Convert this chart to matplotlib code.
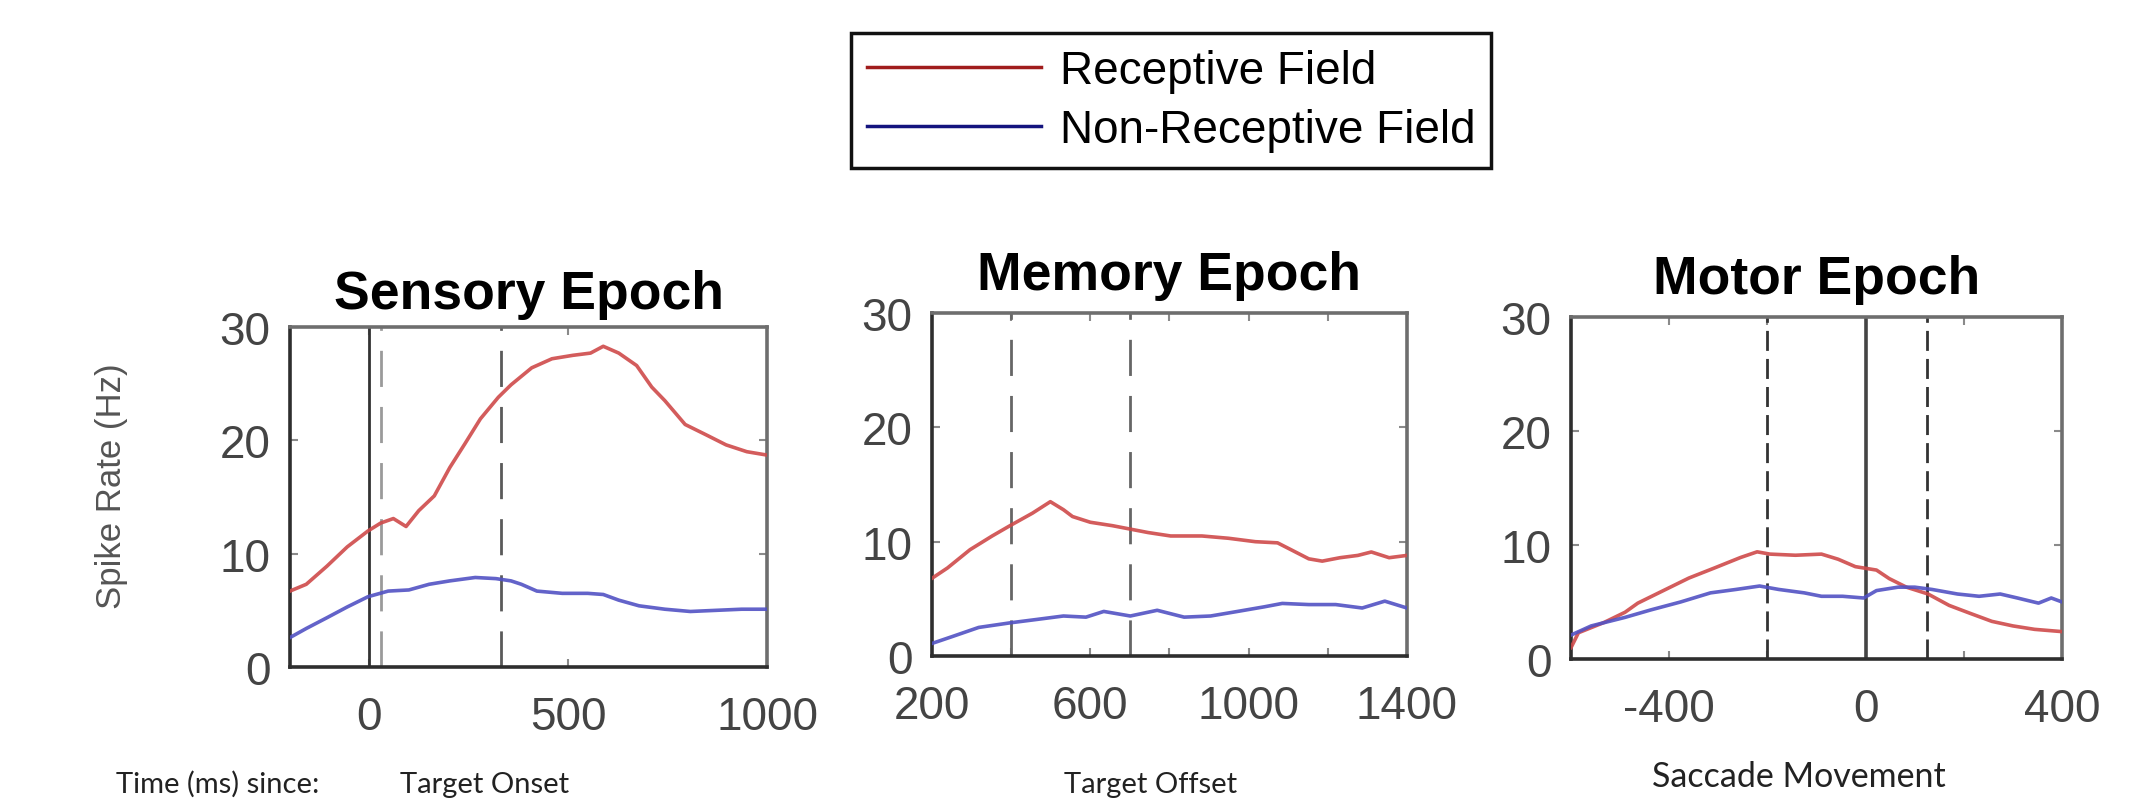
import matplotlib
matplotlib.use("Agg")
import matplotlib.pyplot as plt
from matplotlib.lines import Line2D

plt.rcParams['font.family'] = ['Liberation Sans', 'DejaVu Sans']

# --- datos ---
sensory_t = [-200, -159, -107, -56, -4, 28, 60, 92, 124, 163, 202, 240, 279, 324,
             356, 408, 459, 511, 556, 588, 627, 672, 710, 743, 794, 846, 897, 949, 1000]
sensory_rf = [6.7, 7.3, 8.9, 10.6, 12.0, 12.7, 13.1, 12.4, 13.8, 15.1, 17.6, 19.7, 21.9, 23.8,
              24.9, 26.4, 27.2, 27.5, 27.7, 28.3, 27.7, 26.6, 24.7, 23.5, 21.4, 20.5, 19.6, 19.0, 18.7]
sensory_t2 = [-200, -159, -107, -56, -4, 47, 99, 150, 202, 266, 318, 356, 382, 421,
              485, 549, 588, 627, 678, 743, 807, 871, 936, 1000]
sensory_nrf = [2.6, 3.4, 4.35, 5.3, 6.2, 6.7, 6.8, 7.3, 7.6, 7.9, 7.8, 7.6, 7.3, 6.7,
               6.5, 6.5, 6.4, 5.9, 5.4, 5.1, 4.9, 5.0, 5.1, 5.1]

memory_t = [200, 239, 296, 352, 397, 454, 499, 532, 555, 600, 656, 701, 746, 803,
            882, 949, 1017, 1073, 1107, 1152, 1186, 1231, 1276, 1310, 1355, 1400]
memory_rf = [6.8, 7.7, 9.3, 10.5, 11.4, 12.5, 13.5, 12.8, 12.2, 11.7, 11.4, 11.1, 10.8, 10.5,
             10.5, 10.3, 10.0, 9.9, 9.3, 8.5, 8.3, 8.6, 8.8, 9.1, 8.6, 8.8]
memory_t2 = [200, 251, 318, 397, 465, 532, 589, 634, 701, 769, 837, 904, 972, 1039,
             1085, 1152, 1220, 1287, 1344, 1400]
memory_nrf = [1.1, 1.7, 2.5, 2.9, 3.2, 3.5, 3.4, 3.9, 3.5, 4.0, 3.4, 3.5, 3.9, 4.3,
              4.6, 4.5, 4.5, 4.2, 4.8, 4.2]

motor_t = [-600, -585, -533, -490, -464, -412, -360, -307, -255, -221, -195, -143, -90,
           -56, -21, 22, 48, 83, 127, 170, 213, 257, 300, 344, 400]
motor_rf = [1.0, 2.3, 3.2, 4.1, 4.9, 6.0, 7.1, 8.0, 8.9, 9.4, 9.2, 9.1, 9.2,
            8.75, 8.1, 7.8, 7.05, 6.3, 5.7, 4.7, 4.0, 3.3, 2.9, 2.6, 2.4]
motor_t2 = [-600, -559, -490, -438, -377, -316, -264, -216, -177, -125, -90, -47, -4,
            22, 66, 100, 135, 187, 231, 274, 309, 352, 378, 400]
motor_nrf = [2.1, 2.9, 3.65, 4.3, 5.0, 5.8, 6.1, 6.4, 6.1, 5.8, 5.5, 5.5, 5.35,
             6.0, 6.3, 6.3, 6.1, 5.7, 5.5, 5.7, 5.35, 4.9, 5.35, 5.0]

# eventos (lineas verticales)
sensory_solid = [0]
sensory_dashed = [30, 330]
memory_dashed = [400, 700]
motor_solid = [0]
motor_dashed = [-200, 125]

titles = ['Sensory Epoch', 'Memory Epoch', 'Motor Epoch']
xlims = [(-200, 1000), (200, 1400), (-600, 400)]
xticks = [[0, 500, 1000], [200, 400, 600, 800, 1000, 1200, 1400], [-600, -400, -200, 0, 200, 400]]
xlabels = [['0', '500', '1000'], ['200', '', '600', '', '1000', '', '1400'],
           ['', '-400', '', '0', '', '400']]
yticks = [0, 10, 20, 30]
since_labels = ['Target Onset', 'Target Offset', 'Saccade Movement']

col_rf = '#cf4a4a'
col_nrf = '#5252c4'

fig = plt.figure(figsize=(21.48, 8.03), dpi=100)

posiciones = [[0.1350, 0.1681, 0.2221, 0.4234],
              [0.4339, 0.1818, 0.2211, 0.4271],
              [0.7314, 0.1781, 0.2286, 0.4259]]
title_pads = [14, 17, 17]

datos = [(sensory_t, sensory_rf, sensory_t2, sensory_nrf),
         (memory_t, memory_rf, memory_t2, memory_nrf),
         (motor_t, motor_rf, motor_t2, motor_nrf)]

axes = []
for i in range(3):
    ax = fig.add_axes(posiciones[i])
    t1, rf, t2, nrf = datos[i]
    ax.plot(t1, rf, color=col_rf, lw=2.6, alpha=0.9, zorder=3)
    ax.plot(t2, nrf, color=col_nrf, lw=2.6, alpha=0.9, zorder=3)
    ax.set_xlim(*xlims[i])
    ax.set_ylim(0, 30)
    ax.set_xticks(xticks[i])
    ax.set_xticklabels(xlabels[i])
    ax.set_yticks(yticks)
    ax.tick_params(direction='in', top=True, right=True, length=6, width=1.5,
                   color='#8a8a8a', labelsize=33, labelcolor='#444444')
    ax.tick_params(axis='x', pad=20)
    ax.tick_params(axis='y', pad=14)
    for lado in ['left', 'bottom']:
        ax.spines[lado].set_color('#2e2e2e')
        ax.spines[lado].set_linewidth(2.6)
    for lado in ['top', 'right']:
        ax.spines[lado].set_color('#6e6e6e')
        ax.spines[lado].set_linewidth(2.6)
    ax.set_title(titles[i], fontsize=38.5, fontweight='bold', pad=title_pads[i])
    axes.append(ax)

# lineas de eventos
ax1, ax2, ax3 = axes
for x in sensory_solid:
    ax1.axvline(x, color='#333333', lw=2.0, zorder=2)
ax1.axvline(sensory_dashed[0], color='#9a9a9a', lw=2.0, ls=(0, (13, 7.2)), zorder=2)
ax1.axvline(sensory_dashed[1], color='#5a5a5a', lw=2.0, ls=(0, (13, 7.2)), zorder=2)
for x in memory_dashed:
    ax2.axvline(x, color='#666666', lw=2.0, ls=(0, (13, 7.2)), zorder=2)
for x in motor_solid:
    ax3.axvline(x, color='#444444', lw=2.6, zorder=2)
for x in motor_dashed:
    ax3.axvline(x, color='#333333', lw=2.0, ls=(0, (7.2, 2.9)), zorder=2)

# etiquetas de texto
fig.text(112 / 2148, 0.395, 'Spike Rate (Hz)', rotation=90, ha='center', va='center',
         fontsize=25, color='#555555')

fuente = ['Lato', 'DejaVu Sans']
fig.text(116 / 2148, 1 - 793 / 803, 'Time (ms) since:', ha='left', va='baseline',
         fontsize=21, color='#222222', family=fuente)
fig.text(485 / 2148, 1 - 793 / 803, since_labels[0], ha='center', va='baseline',
         fontsize=21, color='#222222', family=fuente)
fig.text(1151 / 2148, 1 - 793 / 803, since_labels[1], ha='center', va='baseline',
         fontsize=21, color='#222222', family=fuente)
fig.text(1799 / 2148, 1 - 787 / 803, since_labels[2], ha='center', va='baseline',
         fontsize=24.5, color='#222222', family=fuente)

# leyenda
handles = [Line2D([], [], color='#a01c1c', lw=2.5),
           Line2D([], [], color='#14147e', lw=2.5)]
leg = fig.legend(handles, ['Receptive Field', 'Non-Receptive Field'],
                 loc='upper left', bbox_to_anchor=(851 / 2148, 1 - 34 / 803),
                 borderaxespad=0, fontsize=33, handlelength=3.8, handletextpad=0.4,
                 labelspacing=0.33, borderpad=0.35, fancybox=False, framealpha=1)
leg.get_frame().set_edgecolor('#111111')
leg.get_frame().set_linewidth(2.5)

fig.savefig('out.png', dpi=100)
